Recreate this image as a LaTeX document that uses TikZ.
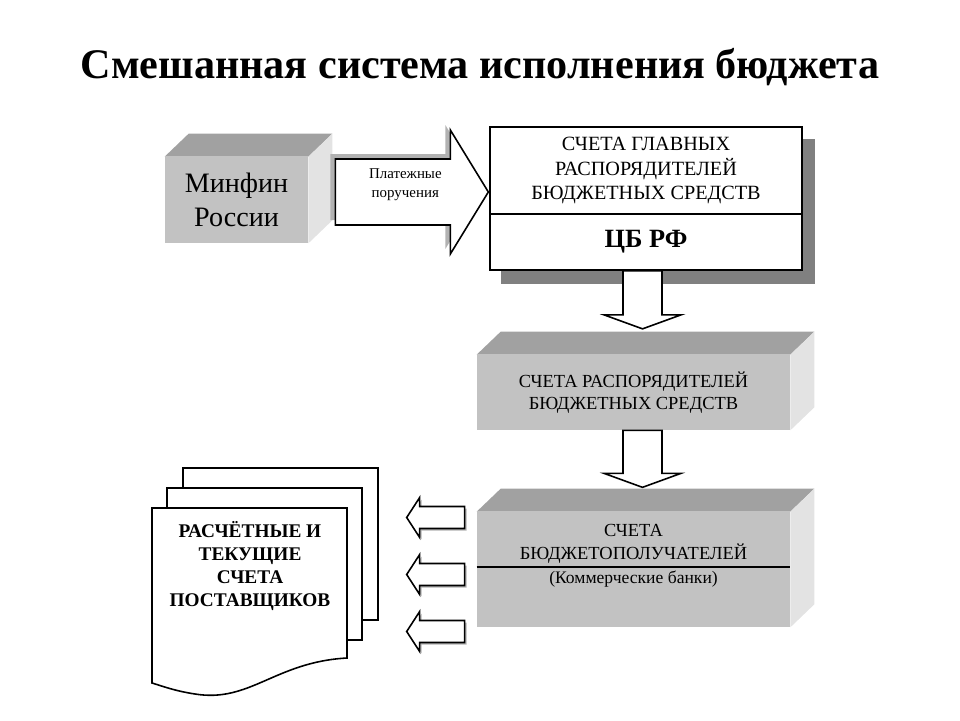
\documentclass[tikz,border=0pt]{standalone}
\usepackage{fontspec}
\setmainfont{Liberation Serif}
\usetikzlibrary{backgrounds, calc, positioning}

\definecolor{frontgray}{gray}{0.76}
\definecolor{topgray}{gray}{0.63}
\definecolor{sidegray}{gray}{0.89}
\definecolor{shadowgray}{gray}{0.5}

\begin{document}
\begin{tikzpicture}[
    x=0.02cm, y=-0.02cm,
    front/.style={rectangle, fill=frontgray, inner sep=0pt, align=center},
    card/.style={rectangle, draw, line width=1pt, fill=white, inner sep=0pt, align=center, minimum width=6.24cm},
    boxtext/.style={font=\fontsize{10.5}{12.5}\selectfont, align=center},
    sheet/.style={draw, line width=0.9pt, fill=white},
    arrowline/.style={draw, line width=0.9pt, fill=white},
    arrowshade/.style={fill=gray!60},
    pics/blockarrow/.style n args={4}{code={
        \path[pic actions] (0,-#2) -- ({#1-#4},-#2) -- ({#1-#4},-#3) -- (#1,0) -- ({#1-#4},#3) -- ({#1-#4},#2) -- (0,#2) -- cycle;
    }}
]
    \useasboundingbox (0,0) rectangle (960,720);

    \node[font=\bfseries\fontsize{24}{28}\selectfont, anchor=base] (title) at (480,78) {Смешанная система исполнения бюджета};

    % 3D boxes
    \node[front, minimum width=2.86cm, minimum height=1.72cm, font=\fontsize{16}{19}\selectfont] (mf) at (236.5,200) {Минфин\\России};
    \node[front, minimum width=6.26cm, minimum height=1.5cm, boxtext] (rs) at (633.5,392.5) {СЧЕТА РАСПОРЯДИТЕЛЕЙ\\БЮДЖЕТНЫХ СРЕДСТВ};
    \node[front, minimum width=6.26cm, minimum height=2.3cm] (sb) at (633.5,569.5) {};
    \foreach \b in {mf, rs, sb} {
        \fill[topgray] (\b.north west) -- ($(\b.north west)+(24,-23)$) -- ($(\b.north east)+(24,-23)$) -- (\b.north east) -- cycle;
        \fill[sidegray] (\b.north east) -- ($(\b.north east)+(24,-23)$) -- ($(\b.south east)+(24,-23)$) -- (\b.south east) -- cycle;
    }
    \node[font=\fontsize{10.5}{13}\selectfont, align=center] (sbt) at ($(sb.north)+(0,32)$) {СЧЕТА\\БЮДЖЕТОПОЛУЧАТЕЛЕЙ};
    \draw[line width=0.9pt] ($(sb.west)+(0,-2.5)$) -- ($(sb.east)+(0,-2.5)$);
    \node[font=\fontsize{10}{12}\selectfont] (bank) at ($(sb.north)+(0,67)$) {(Коммерческие банки)};

    % main accounts
    \node[card, minimum height=1.74cm, font=\fontsize{11.5}{14.2}\selectfont] (cbtop) at (646,170.5) {СЧЕТА ГЛАВНЫХ\\РАСПОРЯДИТЕЛЕЙ\\БЮДЖЕТНЫХ СРЕДСТВ};
    \node[card, minimum height=1.12cm, font=\bfseries\fontsize{15}{18}\selectfont, below=-1pt of cbtop] (cbbot) {ЦБ РФ};
    \begin{scope}[on background layer]
        \fill[shadowgray] ($(cbtop.north west)+(12,13)$) rectangle ($(cbbot.south east)+(12,13)$);
    \end{scope}

    % arrows
    \coordinate (pptail) at ($(mf.east)+(27,-8)$);
    \pic[arrowshade, shift={(-5,-5)}] at (pptail) {blockarrow={153}{33}{62}{38}};
    \pic[arrowline] (pp) at (pptail) {blockarrow={153}{33}{62}{38}};
    \node[font=\fontsize{8.5}{11}\selectfont, align=center] (pptext) at ($(pptail)+(70,-7)$) {Платежные\\поручения};
    \pic[arrowline, rotate=-90] (dn1) at ($(cbbot.south)+(-3.5,0)$) {blockarrow={58}{19.5}{38.5}{14}};
    \pic[arrowline, rotate=-90] (dn2) at ($(rs.south)+(9,0)$) {blockarrow={57}{19.5}{38.5}{14}};
    \foreach \y in {-52,5,62} {
        \pic[arrowshade, rotate=180, shift={(-2,-2)}] at ($(sb.west)+(-12,\y)$) {blockarrow={58}{11}{20}{13}};
        \pic[arrowline, rotate=180] at ($(sb.west)+(-12,\y)$) {blockarrow={58}{11}{20}{13}};
    }

    % supplier accounts
    \draw[sheet] (183,468) rectangle (378,620);
    \draw[sheet] (167,488) rectangle (362,640);
    \draw[sheet] (152,508) -- (347,508) -- (347,658) .. controls (275,662) and (250,703) .. (195,694)
        .. controls (175,691) and (162,686) .. (152,683) -- cycle;
    \node[font=\bfseries\fontsize{11}{13}\selectfont, align=center] (docs) at (250,566) {РАСЧЁТНЫЕ И\\ТЕКУЩИЕ\\СЧЕТА\\ПОСТАВЩИКОВ};
\end{tikzpicture}
\end{document}
